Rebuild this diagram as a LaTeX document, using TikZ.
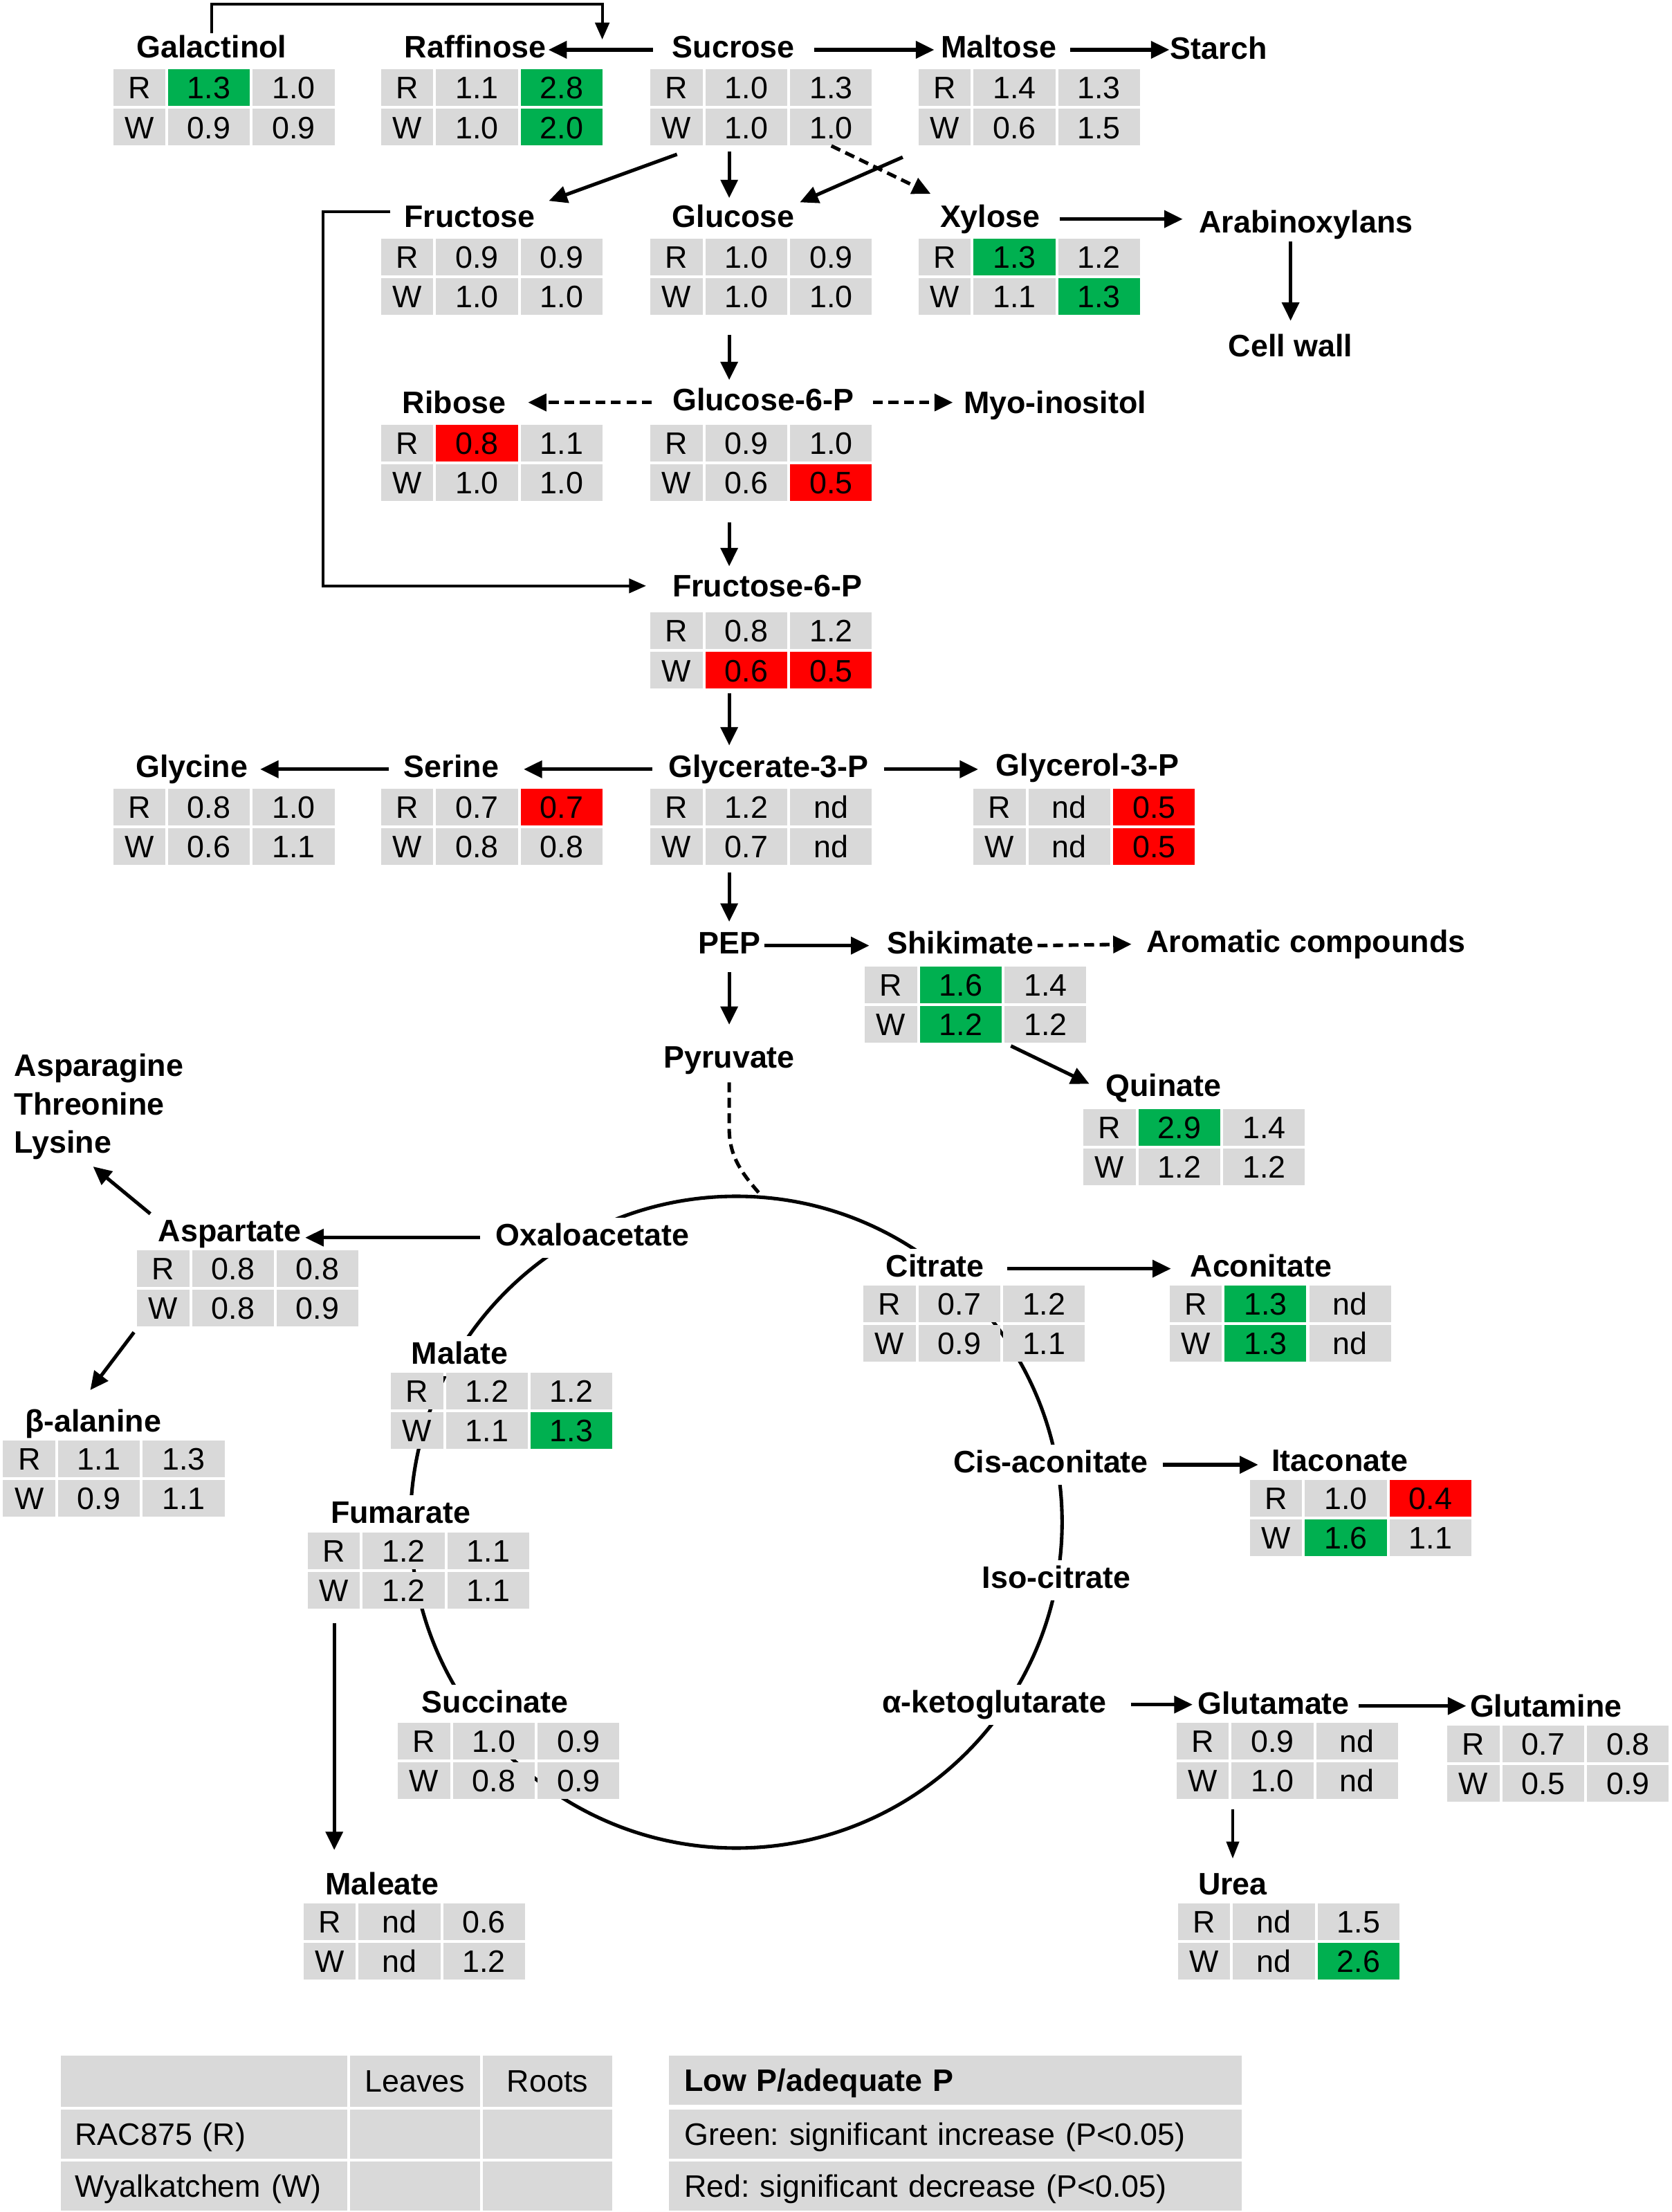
\documentclass[tikz,border=0pt]{standalone}
\usepackage{fontspec}
\setmainfont{Liberation Sans}
\usetikzlibrary{arrows.meta,calc}
\definecolor{cg}{HTML}{D9D9D9}
\definecolor{cn}{HTML}{00B050}
\definecolor{cr}{HTML}{FF0000}
\frenchspacing
\newcommand\vf{\fontsize{22}{26}\selectfont}
\tikzset{
 cell/.style={fill=cg, inner sep=0pt, minimum height=26pt, anchor=north west, font=\vf, text height=15.8pt, text depth=0pt},
 nm/.style={font=\bfseries\vf, fill=white, inner sep=1.5pt, text height=15.8pt, text depth=4.6pt, yshift=-2.3pt},
 cl/.style={inner xsep=4pt, inner ysep=4pt},
 arr/.style={line width=2.5pt, -{Triangle[length=13pt,width=12pt]}},
 darr/.style={arr, dash pattern=on 7pt off 4pt},
 thn/.style={line width=2pt, -{Triangle[length=12pt,width=10pt]}},
 arrs/.style={line width=1.6pt, -{Triangle[length=12pt,width=9pt]}},
 lgc/.style={fill=cg, anchor=north west, minimum height=35pt, inner sep=0pt, font=\vf, text height=15.8pt, text depth=0pt},
}
\newcommand\mtab[4]{%
 \node[inner sep=0pt, minimum width=157pt, minimum height=54pt, anchor=north west] (#1) at (#2,#3) {};
 \node[cell, minimum width=37pt] (#1R) at (#2,#3) {R};
 \node[cell, minimum width=37pt] (#1W) at (#2,#3+28) {W};
 \foreach \cc/\cv [count=\ci] in {#4} {
   \pgfmathsetmacro\xx{#2+39+60*mod(\ci-1,2)}
   \pgfmathsetmacro\yy{#3+28*int((\ci-1)/2)}
   \node[cell, fill=\cc, minimum width=58pt] (#1-\ci) at (\xx,\yy) {\cv};
 }%
}
\begin{document}
\begin{tikzpicture}[x=1pt,y=-1pt]
\useasboundingbox (0,0) rectangle (1185,1568);
% TCA cycle
\draw[line width=2.5pt] (522,1079) circle[radius=231pt];
% names
\node[nm] (nGal) at (150,33) {Galactinol};
\node[nm] (nRaf) at (337,33) {Raffinose};
\node[nm] (nSuc) at (520,33) {Sucrose};
\node[nm] (nMal) at (708,33) {Maltose};
\node[nm] (nSta) at (864,34) {Starch};
\node[nm] (nFru) at (333,153) {Fructose};
\node[nm] (nGlu) at (520,153) {Glucose};
\node[nm] (nXyl) at (702,153) {Xylose};
\node[nm] (nAra) at (926,157) {Arabinoxylans};
\node[nm] (nCW) at (915,245) {Cell wall};
\node[nm] (nRib) at (322,285) {Ribose};
\node[nm] (nG6P) at (541,283) {Glucose-6-P};
\node[nm] (nMyo) at (748,285) {Myo-inositol};
\node[nm] (nF6P) at (544,415) {Fructose-6-P};
\node[nm] (nGly) at (136,543) {Glycine};
\node[nm] (nSer) at (320,543) {Serine};
\node[nm] (nG3P) at (545,543) {Glycerate-3-P};
\node[nm] (nGlp) at (771,542) {Glycerol-3-P};
\node[nm] (nPEP) at (517,668) {PEP};
\node[nm] (nShi) at (681,668) {Shikimate};
\node[nm] (nAro) at (926,667) {Aromatic compounds};
\node[nm] (nPyr) at (517,749) {Pyruvate};
\node[nm] (nQui) at (825,769) {Quinate};
\node[font=\bfseries\fontsize{22}{27}\selectfont, inner sep=0pt, anchor=north west, align=left] (nAAT) at (10,747) {Asparagine\\Threonine\\Lysine};
\node[nm] (nAsp) at (163,872) {Aspartate};
\node[nm,cl] (nOxa) at (420,875) {Oxaloacetate};
\node[nm,cl] (nCit) at (663,897) {Citrate};
\node[nm] (nAco) at (894,897) {Aconitate};
\node[nm,cl] (nMlt) at (326,959) {Malate};
\node[nm] (nBal) at (66,1007) {β-alanine};
\node[nm,cl] (nCis) at (745,1036) {Cis-aconitate};
\node[nm] (nIta) at (950,1035) {Itaconate};
\node[nm,cl] (nFum) at (284,1072) {Fumarate};
\node[nm,cl] (nIso) at (749,1118) {Iso-citrate};
\node[nm,cl] (nScn) at (351,1206) {Succinate};
\node[nm,cl] (nAkg) at (705,1206) {α-ketoglutarate};
\node[nm] (nGlt) at (903,1207) {Glutamate};
\node[nm] (nGln) at (1096,1209) {Glutamine};
\node[nm] (nMle) at (271,1335) {Maleate};
\node[nm] (nUre) at (874,1335) {Urea};
% tables
\mtab{gal}{80}{49}{cn/1.3, cg/1.0, cg/0.9, cg/0.9}
\mtab{raf}{270}{49}{cg/1.1, cn/2.8, cg/1.0, cn/2.0}
\mtab{suc}{461}{49}{cg/1.0, cg/1.3, cg/1.0, cg/1.0}
\mtab{mal}{651}{49}{cg/1.4, cg/1.3, cg/0.6, cg/1.5}
\mtab{fru}{270}{169}{cg/0.9, cg/0.9, cg/1.0, cg/1.0}
\mtab{glu}{461}{169}{cg/1.0, cg/0.9, cg/1.0, cg/1.0}
\mtab{xyl}{651}{169}{cn/1.3, cg/1.2, cg/1.1, cn/1.3}
\mtab{rib}{270}{301}{cr/0.8, cg/1.1, cg/1.0, cg/1.0}
\mtab{g6p}{461}{301}{cg/0.9, cg/1.0, cg/0.6, cr/0.5}
\mtab{f6p}{461}{434}{cg/0.8, cg/1.2, cr/0.6, cr/0.5}
\mtab{gly}{80}{559}{cg/0.8, cg/1.0, cg/0.6, cg/1.1}
\mtab{ser}{270}{559}{cg/0.7, cr/0.7, cg/0.8, cg/0.8}
\mtab{g3p}{461}{559}{cg/1.2, cg/nd, cg/0.7, cg/nd}
\mtab{glp}{690}{559}{cg/nd, cr/0.5, cg/nd, cr/0.5}
\mtab{shi}{613}{685}{cn/1.6, cg/1.4, cn/1.2, cg/1.2}
\mtab{qui}{768}{786}{cn/2.9, cg/1.4, cg/1.2, cg/1.2}
\mtab{asp}{97}{886}{cg/0.8, cg/0.8, cg/0.8, cg/0.9}
\mtab{mlt}{277}{973}{cg/1.2, cg/1.2, cg/1.1, cn/1.3}
\mtab{bal}{2}{1021}{cg/1.1, cg/1.3, cg/0.9, cg/1.1}
\mtab{fum}{218}{1086}{cg/1.2, cg/1.1, cg/1.2, cg/1.1}
\mtab{scn}{282}{1221}{cg/1.0, cg/0.9, cg/0.8, cg/0.9}
\mtab{cit}{612}{911}{cg/0.7, cg/1.2, cg/0.9, cg/1.1}
\mtab{aco}{829}{911}{cn/1.3, cg/nd, cn/1.3, cg/nd}
\mtab{ita}{886}{1049}{cg/1.0, cr/0.4, cn/1.6, cg/1.1}
\mtab{glt}{834}{1221}{cg/0.9, cg/nd, cg/1.0, cg/nd}
\mtab{gln}{1026}{1223}{cg/0.7, cg/0.8, cg/0.5, cg/0.9}
\mtab{mle}{215}{1349}{cg/nd, cg/0.6, cg/nd, cg/1.2}
\mtab{ure}{835}{1349}{cg/nd, cg/1.5, cg/nd, cn/2.6}
% helper coordinates
\coordinate (jtop) at (0,3);
\coordinate (jn) at (427,28);
\coordinate (sp) at (517,0);
\coordinate (ctop) at (541,849);
% connectors
\draw[thn] (nGal.north) -- (nGal.north |- jtop) -| (jn);
\draw[arr] ($(nSuc.west)+(-12,0)$) -- (nRaf.east);
\draw[arr] ($(nSuc.east)+(12,0)$) -- ($(nMal.west)+(-3,0)$);
\draw[arr] ($(nMal.east)+(8,0)$) -- ($(nSta.west |- nMal.east)+(1,0)$);
\draw[arr] ($(suc.south west)+(19,6)$) -- ($(nFru.north east)+(8,-1)$);
\draw[arr] ($(suc.south -| sp)+(0,4)$) -- ($(nGlu.north -| sp)+(0,-3)$);
\draw[arr] ($(mal.south west)+(-11,8)$) -- ($(nGlu.north east)+(2,0)$);
\draw[darr] ($(suc.south east)+(-29,0)$) -- ($(nXyl.north west)+(-5,-6)$);
\draw[arr] ($(nXyl.east)+(12,0)$) -- ($(nAra.west |- nXyl.east)+(-10,0)$);
\draw[arr] ($(nAra.south -| nCW.north)+(0,0)$) -- ($(nCW.north)+(0,-8)$);
\draw[arr] ($(glu.south -| sp)+(0,14)$) -- ($(nG6P.north -| sp)+(0,-4)$);
\draw[darr] ($(nG6P.west)+(-13,0)$) -- ($(nRib.east |- nG6P.west)+(14,0)$);
\draw[darr] ($(nG6P.east)+(12,0)$) -- ($(nMyo.west |- nG6P.east)+(-6,0)$);
\draw[arr] ($(g6p.south -| sp)+(0,15)$) -- ($(nF6P.north -| sp)+(0,-4)$);
\draw[thn] ($(nFru.west)+(-8,-5)$) -- ++(-48,0) |- ($(nF6P.west)+(-17,-2)$);
\draw[arr] ($(f6p.south -| sp)+(0,3)$) -- ($(nG3P.north -| sp)+(0,-5)$);
\draw[arr] ($(nG3P.west)+(-10,0)$) -- ($(nSer.east)+(16,0)$);
\draw[arr] ($(nSer.west)+(-9,0)$) -- ($(nGly.east)+(7,0)$);
\draw[arr] ($(nG3P.east)+(9,0)$) -- ($(nGlp.west |- nG3P.east)+(-11,0)$);
\draw[arr] ($(g3p.south -| sp)+(0,5)$) -- ($(nPEP.north)+(0,-5)$);
\draw[arr] ($(nPEP.east)+(1,0)$) -- ($(nShi.west)+(-11,0)$);
\draw[darr] ($(nShi.east)+(1,0)$) -- ($(nAro.west)+(-9,0)$);
\draw[arr] ($(nPEP.south)+(0,7)$) -- ($(nPyr.north)+(0,-13)$);
\draw[arr] ($(shi.south)+(25,2)$) -- ($(nQui.west)+(-10,-3)$);
\draw[line width=2.5pt, dash pattern=on 7pt off 4pt] ($(nPyr.south)+(0,4)$) -- ++(0,33) .. controls +(0,22) and +(-12,-14) .. (ctop);
\draw[arr] ($(nOxa.west)+(-7,0)$) -- ($(nAsp.east |- nOxa.west)+(1,0)$);
\draw[arr] ($(nAsp.north west)+(-4,-2)$) -- ($(nAAT.south west)+(56,5)$);
\draw[arr] ($(asp.south west)+(-2,4)$) -- ($(nBal.north)+(-2,-12)$);
\draw[arr] ($(nCit.east)+(12,0)$) -- ($(nAco.west |- nCit.east)+(-12,0)$);
\draw[arr] ($(nCis.east)+(6,0)$) -- ($(nIta.west |- nCis.east)+(-8,0)$);
\draw[arr] ($(nAkg.east)+(13,0)$) -- ($(nGlt.west |- nAkg.east)+(-2,0)$);
\draw[arr] ($(nGlt.east)+(5,0)$) -- ($(nGln.west |- nGlt.east)+(-1,0)$);
\draw[arrs] ($(glt.south -| nUre.north)+(0,7)$) -- ($(nUre.north)+(0,-8)$);
\draw[arr] ($(fum.south west)+(19,10)$) -- ($(fum.south west |- nMle.north)+(19,-14)$);
% legend
\node[lgc, minimum width=203pt, minimum height=36pt] (lg11) at (43,1457) {};
\node[lgc, minimum width=92pt, minimum height=36pt] (lg12) at (248,1457) {Leaves};
\node[lgc, minimum width=92pt, minimum height=36pt] (lg13) at (342,1457) {Roots};
\node[lgc, text width=183pt, inner xsep=10pt, align=left] (lg21) at (43,1495) {RAC875 (R)};
\node[lgc, minimum width=92pt] (lg22) at (248,1495) {};
\node[lgc, minimum width=92pt] (lg23) at (342,1495) {};
\node[lgc, text width=183pt, inner xsep=10pt, align=left] (lg31) at (43,1532) {Wyalkatchem (W)};
\node[lgc, minimum width=92pt] (lg32) at (248,1532) {};
\node[lgc, minimum width=92pt] (lg33) at (342,1532) {};
\node[lgc, text width=384pt, inner xsep=11pt, align=left, font=\bfseries\vf] (lr1) at (474,1457) {Low P/adequate P};
\node[lgc, text width=384pt, inner xsep=11pt, align=left] (lr2) at (474,1495) {Green: significant increase (P<0.05)};
\node[lgc, text width=384pt, inner xsep=11pt, align=left] (lr3) at (474,1532) {Red: significant decrease (P<0.05)};
\end{tikzpicture}
\end{document}
